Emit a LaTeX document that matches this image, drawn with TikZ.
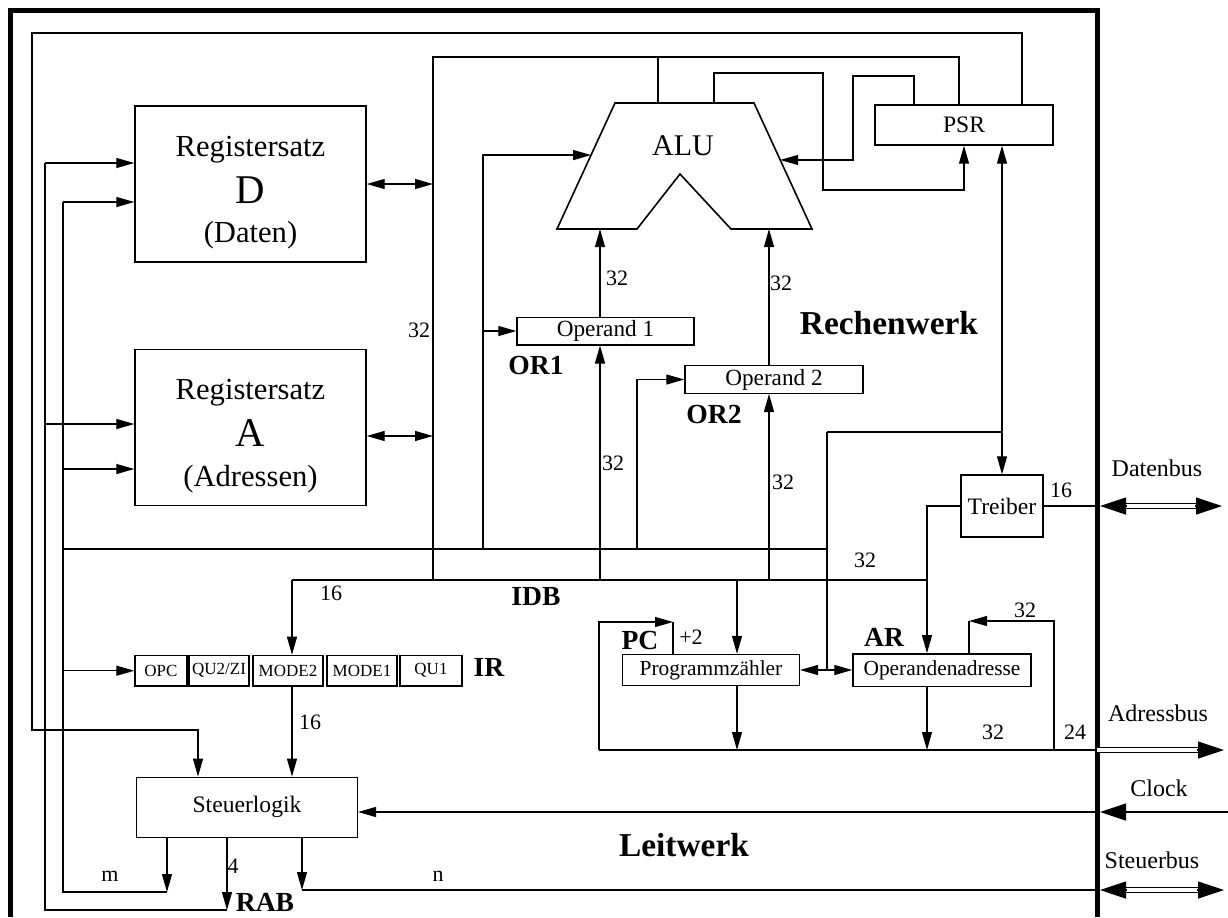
\documentclass[tikz,border=0pt]{standalone}
\usepackage{fontspec}
\setmainfont{Liberation Serif}
\usetikzlibrary{arrows.meta,positioning,calc}

\begin{document}
\begin{tikzpicture}[
    x=0.5pt, y=-0.5pt, line width=0.6pt,
    box/.style={draw, line width=0.7pt, inner sep=0pt, font=\fontsize{11.8}{13}\selectfont},
    regbox/.style={box, minimum width=115.5pt, minimum height=78pt},
    irbox/.style={box, minimum height=15.3pt, font=\fontsize{8.5}{9}\selectfont},
    regtext/.style={inner sep=0pt, font=\fontsize{15.3}{16}\selectfont},
    bigletter/.style={inner sep=0pt, font=\fontsize{20.4}{22}\selectfont},
    tag/.style={inner sep=0pt, font=\bfseries\fontsize{13.8}{15}\selectfont},
    werk/.style={inner sep=0pt, font=\bfseries\fontsize{16.7}{18}\selectfont},
    bits/.style={inner sep=0pt, font=\fontsize{11}{12}\selectfont},
    busname/.style={inner sep=0pt, font=\fontsize{12}{13}\selectfont},
    arrow/.style={-{Triangle[length=9pt,width=5pt]}},
    biarrow/.style={{Triangle[length=9pt,width=5pt]}-{Triangle[length=9pt,width=5pt]}},
    bigarrow/.style={-{Triangle[length=13pt,width=8.5pt]}},
    ext/.style={double, double distance=1.8pt, line width=0.6pt}
]
\useasboundingbox (0,0) rectangle (1228,917);

% Frame of the CPU
\draw[line width=2.5pt] (10,917) |- (1097,10) -- (1097,917);

% Register sets
\foreach \r/\y/\s in {D/184/Daten, A/427.5/Adressen} {
    \node[regbox] (reg\r) at (250.5,\y) {};
    \node[regtext, anchor=base] (reg\r-name) at ($(reg\r.north)+(0,51)$) {Registersatz};
    \node[bigletter, anchor=base] (reg\r-letter) at ($(reg\r.north)+(0,98)$) {\r};
    \node[regtext, anchor=base] (reg\r-use) at ($(reg\r.north)+(0,137.5)$) {(\s)};
}

% ALU
\coordinate (aluTL) at (615,103);
\coordinate (aluTR) at (754,103);
\coordinate (aluBR) at (812,229);
\coordinate (aluNR) at (731,229);
\coordinate (aluN) at (680,174);
\coordinate (aluNL) at (637,229);
\coordinate (aluBL) at (557,229);
\draw[line width=0.8pt] (aluTL) -- (aluTR) -- (aluBR) -- (aluNR) -- (aluN) -- (aluNL) -- (aluBL) -- cycle;
\node[inner sep=0pt, font=\fontsize{15}{16}\selectfont] (alu) at (683,146) {ALU};
\path (aluBL) -- (aluTL) coordinate[pos=0.587] (aluInL);
\path (aluBR) -- (aluTR) coordinate[pos=0.548] (aluInR);

% Registers
\node[box, minimum width=89pt, minimum height=20pt] (psr) at (964,125) {PSR};
\node[box, minimum width=88.5pt, minimum height=13.8pt, font=\fontsize{11.6}{12}\selectfont] (op1) at (605.5,331) {Operand 1};
\node[box, minimum width=89pt, minimum height=13.8pt, font=\fontsize{11.6}{12}\selectfont] (op2) at (774,379.5) {Operand 2};
\node[box, minimum width=41pt, minimum height=31pt] (treiber) at (1002,506) {Treiber};
\node[box, minimum width=88.3pt, minimum height=15.5pt, font=\fontsize{10.7}{12}\selectfont] (pc) at (711,670) {Programmzähler};
\node[box, minimum width=89pt, minimum height=16.2pt, font=\fontsize{10.7}{12}\selectfont] (ar) at (942,670) {Operandenadresse};
\node[box, minimum width=110.3pt, minimum height=30pt] (sl) at (247,807.3) {Steuerlogik};

% Instruction register
\foreach \n/\t/\x/\w in {opc/OPC/161/26, qu2/{QU2/ZI}/219/30, mode2/MODE2/288/35, mode1/MODE1/362/35, qu1/QU1/431/31} {
    \node[irbox, minimum width=\w pt] (\n) at (\x,670.7) {\t};
}

% Bus junctions
\coordinate (dbtop) at (433,57);
\coordinate (dbbot) at (433,580);
\coordinate (idbL) at (292,580);
\coordinate (idbR) at (927,580);
\coordinate (abL) at (599,750);
\coordinate (pcar) at (827,670);
\coordinate (tr1) at (827,432);
\coordinate (inc) at (673,622);
\coordinate (arfb) at (969,621);
\coordinate (rab) at (227,910);
\coordinate (mctl) at (167,892);
\coordinate (sctl) at (302,890);
\coordinate (ra1) at (45,163);
\coordinate (ra2) at (45,424);
\coordinate (m1) at (63,202);
\coordinate (m2) at (63,469);
\coordinate (m3) at (63,670.7);
\coordinate (m4) at (63,549);
\coordinate (ra) at (433,436);
\coordinate (dbus) at (1097,506);
\coordinate (dbusx) at (1222,506);
\coordinate (abus) at (1097,750);
\coordinate (abusx) at (1224,750);
\coordinate (clk) at (1100,812);
\coordinate (clkx) at (1228,812);
\coordinate (sbus) at (1097,890);
\coordinate (sbusx) at (1224,890);

% Data paths in the Rechenwerk
\draw (dbbot) -- (dbtop) -| (psr.north -| 959,0);
\draw (aluTL -| 658,0) -- (dbtop -| 658,0);
\draw[biarrow] (regD.east) -- (regD.east -| dbtop);
\draw[biarrow] (regA.east |- ra) -- (ra);
\draw[arrow] (aluTL -| 714,0) |- (823,73) |- (psr.south |- 0,190) -- (psr.south);
\draw[arrow] (psr.north -| 914,0) |- (853,76) |- (aluInR);
\draw[arrow] (op1.north -| 600,0) -- (aluBL -| 600,0);
\draw[arrow] (op2.north -| 769,0) -- (aluBR -| 769,0);
\draw[biarrow] (treiber.north |- psr.south) -- (treiber.north);

% Internal data bus
\draw (idbL) -- (idbR);
\draw[arrow] (idbL) -- (mode2.north -| idbL);
\draw[arrow] (idbL -| 600,0) -- (op1.south -| 600,0);
\draw[arrow] (idbL -| 769,0) -- (op2.south -| 769,0);
\draw[arrow] (idbL -| 737,0) -- (pc.north -| 737,0);
\draw[arrow] (treiber.west) -| (ar.north -| idbR);

% Address paths
\draw[arrow] (abL) |- (inc);
\draw (pc.north -| inc) -- (inc);
\draw[arrow] (pc.south -| 737,0) -- (abL -| 737,0);
\draw[arrow] (ar.south -| idbR) -- (abL -| idbR);
\draw[arrow] (abL -| 1054,0) |- (arfb);
\draw (ar.north -| arfb) -- (arfb);
\draw[biarrow] (pc.east) -- (ar.west);
\draw (tr1) -- (pcar);
\draw (tr1) -- (tr1 -| treiber.north);

% Control lines
\draw[arrow] (psr.north -| 1022,0) |- (32,33) |- (198,730) -- (sl.north -| 198,0);
\draw[arrow] (sl.south -| rab) -- (rab);
\draw (rab) -| (ra1);
\draw[arrow] (ra1) -- (regD.west |- ra1);
\draw[arrow] (ra2) -- (regA.west |- ra2);
\draw[arrow] (sl.south -| mctl) -- (mctl);
\draw (mctl) -| (m1);
\draw[arrow] (m1) -- (regD.west |- m1);
\draw[arrow] (m2) -- (regA.west |- m2);
\draw[arrow] (m3) -- (opc.west);
\draw (m4) -- (m4 -| pcar);
\draw[arrow] (m4 -| 483,0) |- (aluInL);
\draw[arrow] (m4 -| 483,0) |- (op1.west);
\draw[arrow] (m4 -| 637,0) |- (op2.west);
\draw[arrow] (mode2.south -| idbL) -- (sl.north -| idbL);
\draw[arrow] (sl.south -| sctl) -- (sctl);

% External buses (double lines, tips drawn on top)
\draw (treiber.east) -- (dbus);
\draw[ext, shorten <=11pt, shorten >=11pt] ($(dbus)+(3,0)$) -- (dbusx);
\draw[bigarrow] ($(dbus)+(30,0)$) -- ($(dbus)+(3,0)$);
\draw[bigarrow] ($(dbusx)+(-27,0)$) -- (dbusx);
\draw (abL) -- (abus);
\draw[ext, shorten >=11pt] (abus) -- (abusx);
\draw[bigarrow] ($(abusx)+(-27,0)$) -- (abusx);
\draw[bigarrow] (clkx) -- (clk);
\draw[arrow] (clk) -- (sl.east |- clk);
\draw (sctl) -- (sbus);
\draw[ext, shorten <=11pt, shorten >=11pt] ($(sbus)+(3,0)$) -- (sbusx);
\draw[bigarrow] ($(sbus)+(30,0)$) -- ($(sbus)+(3,0)$);
\draw[bigarrow] ($(sbusx)+(-27,0)$) -- (sbusx);

% Bus widths
\foreach \n/\x/\y/\t in {w1/419/330/32, w2/617/278/32, w3/613/463/32, w4/781/283/32,
    w5/783/482/32, w6/331/593/16, w7/865/560/32, w8/1061/490/16, w9/1025/610/32,
    w10/993/732/32, w11/1075/732/24, w12/310/722/16, w13/233/866/4, w14/691/637/+2,
    w15/110/876/m, w16/438/876/n} {
    \node[bits] (\n) at (\x,\y) {\t};
}

% Register tags
\foreach \n/\x/\y/\t in {or1/536/365/OR1, or2/714/414/OR2, idb/536/596/IDB,
    pctag/640/640/PC, artag/884/637/AR, irtag/489/667/IR, rabtag/265/902/RAB} {
    \node[tag] (\n) at (\x,\y) {\t};
}

% Units and bus names
\node[werk] (rechenwerk) at (889,323) {Rechenwerk};
\node[werk] (leitwerk) at (684,845) {Leitwerk};
\node[busname] (datenbus) at (1157,468) {Datenbus};
\node[busname] (adressbus) at (1158,713) {Adressbus};
\node[busname] (clock) at (1159,788) {Clock};
\node[busname] (steuerbus) at (1152,860) {Steuerbus};

\end{tikzpicture}
\end{document}
